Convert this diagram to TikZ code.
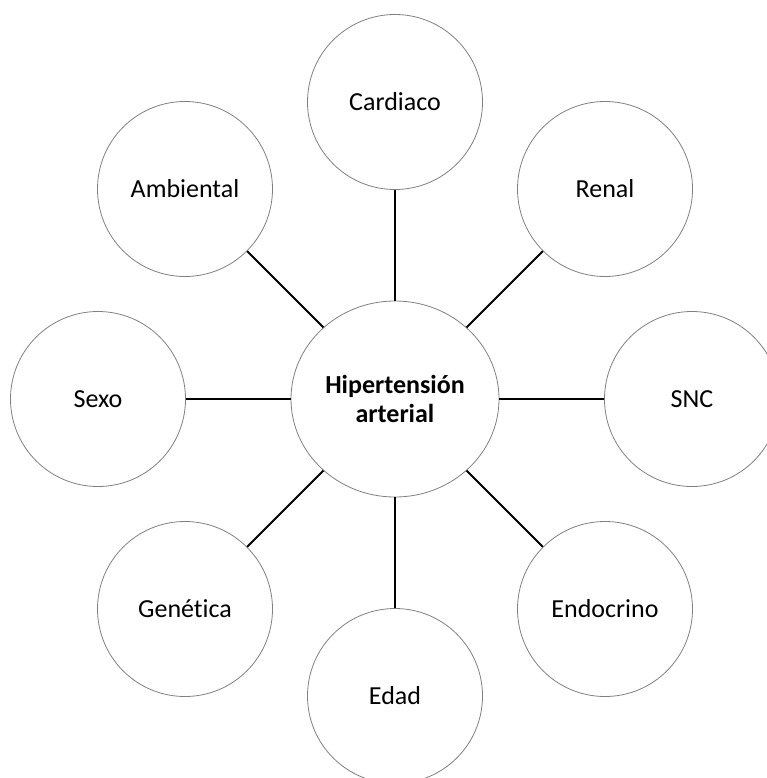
\documentclass[tikz,border=0pt]{standalone}
\usepackage{fontspec}
\setmainfont[Ligatures=NoCommon]{Carlito}
\usetikzlibrary{shapes.geometric}
\begin{document}
\begin{tikzpicture}[x=1pt,y=-1pt,
  bubble/.style={circle,draw=black!50,line width=0.8pt,fill=white,minimum size=175pt,inner sep=0pt,font=\fontsize{26}{30}\selectfont},
  hub/.style={ellipse,draw=black!50,line width=0.8pt,fill=white,minimum width=208pt,minimum height=196pt,inner sep=0pt,align=center,font=\fontsize{26}{29.5}\selectfont\bfseries},
  link/.style={draw=black,line width=1.8pt}]
\useasboundingbox (0,0) rectangle (767,778);
\clip (0,0) rectangle (767,778);
\node[hub] (c) at (395,399) {Hipertensión\\arterial};
\node[bubble] (card) at (395,102) {Cardiaco};
\node[bubble] (ren) at (605,189) {Renal};
\node[bubble] (snc) at (692,399) {SNC};
\node[bubble] (endo) at (605,609) {Endocrino};
\node[bubble] (edad) at (395,696) {Edad};
\node[bubble] (gen) at (185,609) {Genética};
\node[bubble] (sexo) at (98,399) {Sexo};
\node[bubble] (amb) at (185,189) {Ambiental};
\foreach \n in {card,ren,snc,endo,edad,gen,sexo,amb}
  \draw[link] (c) -- (\n);
\end{tikzpicture}
\end{document}
